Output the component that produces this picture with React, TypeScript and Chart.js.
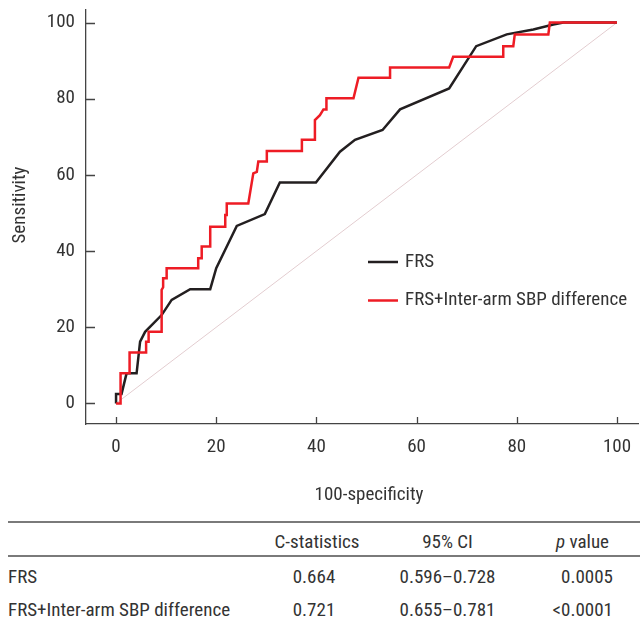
import React, { useEffect, useRef } from "react";
import { Chart, registerables } from "chart.js";

Chart.register(...registerables);

// ---- data ----
const tickValues = [0, 20, 40, 60, 80, 100];
const xTitle = "100-specificity";
const yTitle = "Sensitivity";
const seriesLabels = ["FRS", "FRS+Inter-arm SBP difference"];

const frsX = [0, 0, 1.1, 2.1, 4.1, 4.8, 5.8, 9.1, 11.1, 14.8, 18.8, 20, 24.1, 29.7, 32.7, 39.9, 44.7, 47.7, 53.2, 56.7, 66.5, 71.9, 78, 83.3, 87.3, 89.3, 100];
const frsY = [0, 2.5, 2.5, 7.9, 7.9, 16.2, 18.8, 23.2, 27.2, 30, 30, 35.5, 46.6, 49.7, 58, 58, 66.1, 69.2, 71.8, 77.2, 82.7, 93.8, 96.9, 98.2, 99.5, 100, 100];

const comboX = [0, 0.9, 0.9, 2.7, 2.7, 6, 6, 6.5, 6.5, 9.1, 9.1, 9.4, 9.4, 10.1, 10.1, 16.4, 16.4, 17.1, 17.1, 18.8, 18.8, 21.8, 21.8, 22.1, 22.1, 26.4, 27.4, 28.1, 28.4, 30.1, 30.1, 37.1, 37.1, 39.7, 39.7, 40.7, 41.4, 42, 42, 47.4, 48.4, 54.7, 54.7, 66.5, 67.3, 77.3, 77.3, 79.3, 79.6, 86.3, 86.6, 100];
const comboY = [0, 0, 7.9, 7.9, 13.4, 13.4, 16.2, 16.2, 18.8, 18.8, 29.8, 30.5, 32.9, 32.9, 35.5, 35.5, 38.1, 38.1, 41.2, 41.2, 46.4, 46.4, 49.5, 49.5, 52.5, 52.5, 60.4, 60.8, 63.5, 63.5, 66.3, 66.3, 69.2, 69.2, 74.4, 75.7, 77.2, 77.2, 80.1, 80.1, 85.5, 85.5, 88.2, 88.2, 91, 91, 93.8, 93.8, 96.9, 96.9, 100, 100];

const refX = [0, 100];
const refY = [0, 100];

const tableRowLabels = ["FRS", "FRS+Inter-arm SBP difference"];
const cStats = ["0.664", "0.721"];
const ciValues = ["0.596–0.728", "0.655–0.781"];
const pValues = ["0.0005", "<0.0001"];

// ---- styles ----
const FONT = "'Roboto Condensed','Liberation Sans Narrow','DejaVu Sans Condensed','Open Sans Condensed',Roboto,sans-serif";
const TEXT = "#333333";
const AXIS = "#444444";
const BLACK = "#231f20";
const RED = "#ee1c25";
const DIAG = "#e3cdd0";

const toPoints = (xs: number[], ys: number[]) => xs.map((x, i) => ({ x, y: ys[i] }));

const overlayPlugin = {
  id: "overlay",
  afterDraw(chart: any) {
    const ctx = chart.ctx;
    const xs = chart.scales.x;
    const ys = chart.scales.y;
    const area = chart.chartArea;
    ctx.save();
    // inward tick marks
    ctx.strokeStyle = AXIS;
    ctx.lineWidth = 1.3;
    ctx.beginPath();
    xs.ticks.forEach((_t: any, i: number) => {
      const px = Math.round(xs.getPixelForTick(i)) + 0.5;
      ctx.moveTo(px, area.bottom);
      ctx.lineTo(px, area.bottom - 7);
    });
    ys.ticks.forEach((_t: any, i: number) => {
      const py = Math.round(ys.getPixelForTick(i)) + 0.5;
      ctx.moveTo(area.left, py);
      ctx.lineTo(area.left + 9, py);
    });
    ctx.stroke();

    // axis titles
    ctx.fillStyle = TEXT;
    ctx.font = `19px ${FONT}`;
    ctx.textAlign = "center";
    ctx.textBaseline = "middle";
    ctx.fillText(xTitle, 369, 495);
    ctx.save();
    ctx.translate(20, 205);
    ctx.rotate(-Math.PI / 2);
    ctx.fillText(yTitle, 0, 0);
    ctx.restore();

    // legend
    const ds = chart.data.datasets.filter((d: any) => d.label);
    ds.forEach((d: any, i: number) => {
      const y = 262 + i * 38.5;
      ctx.strokeStyle = d.borderColor;
      ctx.lineWidth = 2.5;
      ctx.beginPath();
      ctx.moveTo(368, y);
      ctx.lineTo(398, y);
      ctx.stroke();
      ctx.fillStyle = TEXT;
      ctx.textAlign = "left";
      ctx.fillText(d.label, 405, y);
    });
    ctx.restore();
  },
};

function RocChart() {
  const ref = useRef<HTMLCanvasElement | null>(null);
  useEffect(() => {
    if (!ref.current) return;
    const tickFont = { family: FONT, size: 19 };
    const chart = new Chart(ref.current, {
      type: "line",
      data: {
        datasets: [
          {
            label: seriesLabels[0],
            data: toPoints(frsX, frsY),
            borderColor: BLACK,
            borderWidth: 2.5,
            pointRadius: 0,
            tension: 0,
            fill: false,
            order: 2,
          },
          {
            label: seriesLabels[1],
            data: toPoints(comboX, comboY),
            borderColor: RED,
            borderWidth: 2.5,
            pointRadius: 0,
            tension: 0,
            fill: false,
            order: 1,
          },
          {
            label: "",
            data: toPoints(refX, refY),
            borderColor: DIAG,
            borderWidth: 1,
            pointRadius: 0,
            tension: 0,
            fill: false,
            order: 3,
          },
        ],
      },
      options: {
        responsive: false,
        animation: false,
        devicePixelRatio: 1,
        layout: { padding: { top: 10, right: 2, left: 0, bottom: 0 } },
        plugins: { legend: { display: false }, tooltip: { enabled: false }, title: { display: false } },
        scales: {
          x: {
            type: "linear",
            position: "bottom",
            min: -6,
            max: 104.2,
            afterBuildTicks: (s: any) => {
              s.ticks = tickValues.map((v) => ({ value: v }));
            },
            afterFit: (s: any) => {
              s.height = 96;
              s.paddingLeft = 0;
              s.paddingRight = 0;
            },
            grid: { display: true, drawOnChartArea: false, drawTicks: false },
            border: { display: true, color: AXIS, width: 1.3 },
            ticks: { padding: 12, color: TEXT, font: tickFont, maxRotation: 0 },
          },
          y: {
            type: "linear",
            position: "left",
            min: -5.4,
            max: 103.3,
            afterBuildTicks: (s: any) => {
              s.ticks = tickValues.map((v) => ({ value: v }));
            },
            afterFit: (s: any) => {
              s.width = 86;
              s.paddingTop = 0;
              s.paddingBottom = 0;
            },
            grid: { display: true, drawOnChartArea: false, drawTicks: false },
            border: { display: true, color: AXIS, width: 1.3 },
            ticks: { padding: 11, color: TEXT, font: tickFont },
          },
        },
      },
      plugins: [overlayPlugin],
    } as any);
    return () => chart.destroy();
  }, []);
  return <canvas ref={ref} width={640} height={520} style={{ position: "absolute", left: 0, top: 0 }} />;
}

function Cell({ text, x, y, align, children }: any) {
  const w = 300;
  let left = x;
  if (align === "center") left = x - w / 2;
  if (align === "right") left = x - w;
  return (
    <div
      style={{
        position: "absolute",
        left,
        top: y - 12,
        width: w,
        height: 24,
        lineHeight: "24px",
        textAlign: align,
        whiteSpace: "nowrap",
      }}
    >
      {children ?? text}
    </div>
  );
}

export default function App() {
  const rowY = [576.5, 610];
  return (
    <div
      style={{
        position: "absolute",
        left: 0,
        top: 0,
        width: 640,
        height: 621,
        background: "#ffffff",
        fontFamily: FONT,
        fontSize: 19,
        color: TEXT,
        overflow: "hidden",
      }}
    >
      <RocChart />
      <div style={{ position: "absolute", left: 8, top: 521, width: 632, height: 2, background: "#7a7a7a" }} />
      <div style={{ position: "absolute", left: 8, top: 555, width: 632, height: 2, background: "#7a7a7a" }} />
      <Cell text="C-statistics" x={317} y={541.5} align="center" />
      <Cell text="95% CI" x={447.5} y={541.5} align="center" />
      <Cell x={582.5} y={541.5} align="center">
        <span style={{ fontStyle: "italic" }}>p</span> value
      </Cell>
      {tableRowLabels.map((r, i) => (
        <React.Fragment key={r}>
          <Cell text={r} x={8} y={rowY[i]} align="left" />
          <Cell text={cStats[i]} x={314} y={rowY[i]} align="center" />
          <Cell text={ciValues[i]} x={447.5} y={rowY[i]} align="center" />
          <Cell text={pValues[i]} x={613} y={rowY[i]} align="right" />
        </React.Fragment>
      ))}
    </div>
  );
}
